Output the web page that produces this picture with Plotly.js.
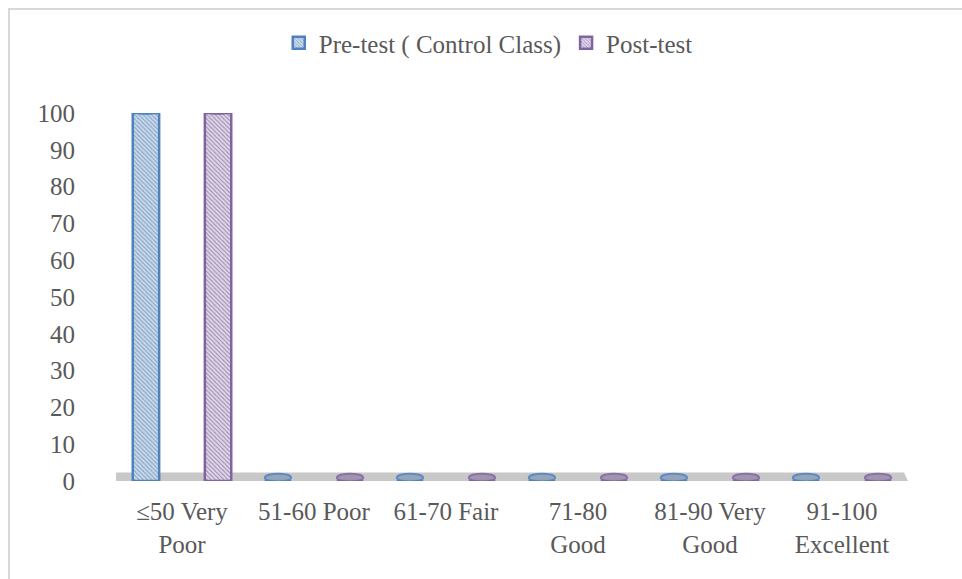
<!DOCTYPE html>
<html><head><meta charset="utf-8">
<script src="https://cdn.plot.ly/plotly-3.0.1.min.js"></script>
<style>
html,body{margin:0;padding:0;background:#fff;}
#frame{position:absolute;left:8px;top:8px;width:1000px;height:600px;border-left:2px solid #d9d9d9;border-top:2px solid #d9d9d9;}
#chart{position:absolute;left:0;top:0;width:962px;height:579px;}
</style></head>
<body>
<div id="frame"></div>
<div id="chart"></div>
<script>
const categories = ["≤50 Very<br>Poor", "51-60 Poor", "61-70 Fair", "71-80<br>Good", "81-90 Very<br>Good", "91-100<br>Excellent"];
const preTest = [100, 0, 0, 0, 0, 0];
const postTest = [100, 0, 0, 0, 0, 0];
const yTicks = [0, 10, 20, 30, 40, 50, 60, 70, 80, 90, 100];

const xIdx = categories.map((c, i) => i);
const W = 0.2, OFF = 0.273;
const series = [
  {name: "Pre-test ( Control Class)", y: preTest, off: -OFF, fill: "#c6dbf1", fg: "#8aa0b8", line: "#4f81bd"},
  {name: "Post-test", y: postTest, off: OFF, fill: "#e2d6ec", fg: "#9a8cab", line: "#8064a2"}
];
const traces = series.map(s => ({
  type: "bar", name: s.name, x: xIdx, y: s.y,
  width: W, offset: s.off - W / 2,
  marker: {color: s.fill, line: {color: s.line, width: 2.5},
    pattern: {shape: "\\", fgcolor: s.fg, bgcolor: s.fill, size: 3, solidity: 0.35}},
  hoverinfo: "skip"
}));

const shapes = [];
// floor
shapes.push({type: "path", xref: "x", yref: "y", layer: "below",
  path: "M -0.5,0 L 5.5,0 L 5.47,2.3 L -0.5,2.3 Z",
  fillcolor: "#c8c8c8", line: {width: 0}});
// cylinder caps from data
series.forEach(s => {
  s.y.forEach((v, i) => {
    shapes.push({type: "circle", xref: "x", yref: "y", layer: "above",
      x0: i + s.off - W / 2, x1: i + s.off + W / 2, y0: v - 0.2, y1: v + 2.0,
      fillcolor: v === 0 ? s.fg : s.fill, line: {color: s.line, width: 2}, opacity: v === 0 ? 0.85 : 1});
  });
});

const layout = {
  width: 962, height: 579,
  margin: {l: 116, r: 54, t: 113, b: 98},
  paper_bgcolor: "rgba(0,0,0,0)", plot_bgcolor: "rgba(0,0,0,0)",
  font: {family: "Liberation Serif, serif", size: 25, color: "#595959"},
  showlegend: true,
  legend: {orientation: "h", x: 0.47, xanchor: "center", y: 1.19, yanchor: "middle",
    font: {size: 25, color: "#595959"}, itemwidth: 30},
  xaxis: {range: [-0.5, 5.5], tickmode: "array", tickvals: xIdx, ticktext: categories,
    showgrid: false, zeroline: false, showline: false, ticks: "", ticklabelstandoff: 13, fixedrange: true},
  yaxis: {range: [0, 100], tickmode: "array", tickvals: yTicks, ticktext: yTicks.map(String),
    showgrid: false, zeroline: false, showline: false, ticks: "", ticklabelstandoff: 40, fixedrange: true},
  shapes: shapes,
  bargap: 0
};
Plotly.newPlot("chart", traces, layout, {displayModeBar: false, staticPlot: true});
</script>
</body></html>
